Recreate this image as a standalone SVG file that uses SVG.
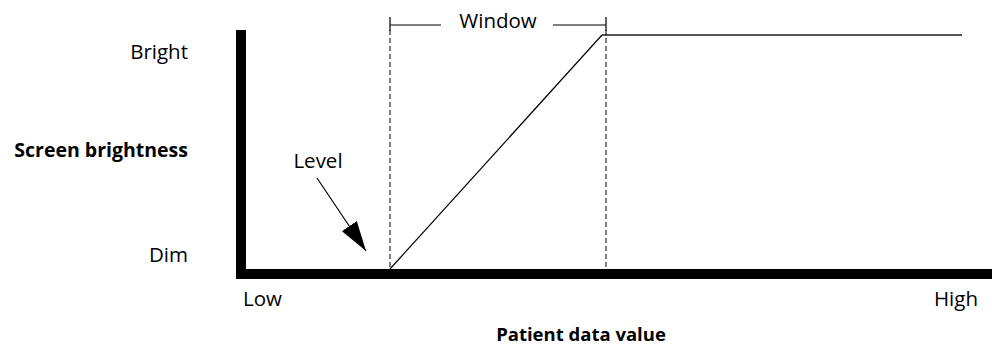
<svg xmlns="http://www.w3.org/2000/svg" width="992" height="347" viewBox="0 0 992 347">
<style>
text{font-family:"Open Sans","Noto Sans",sans-serif;font-size:20.5px;fill:#000}
.b{font-weight:bold;font-size:18.5px}
.dash{stroke:#000;stroke-width:1;stroke-dasharray:5 3;fill:none}
.thin{stroke:#000;stroke-width:1.2;fill:none}
</style>
<defs>
<marker id="ah" viewBox="0 0 30 18" refX="30" refY="9" markerWidth="30" markerHeight="18" markerUnits="userSpaceOnUse" orient="auto">
<path d="M0,0 L30,9 L0,18 z" fill="#000"/>
</marker>
</defs>
<g id="axes">
<rect x="236" y="30" width="10" height="249" fill="#000"/>
<rect x="236" y="269" width="756" height="10" fill="#000"/>
</g>
<g id="labels">
<text x="188" y="59" text-anchor="end">Bright</text>
<text x="188" y="157" text-anchor="end" class="b" style="font-size:19.5px">Screen brightness</text>
<text x="188" y="262" text-anchor="end">Dim</text>
<text x="243" y="306">Low</text>
<text x="978" y="306" text-anchor="end">High</text>
<text x="581" y="341" text-anchor="middle" class="b">Patient data value</text>
<text x="318" y="168" text-anchor="middle">Level</text>
<text x="498" y="28" text-anchor="middle">Window</text>
</g>
<g id="curve">
<polyline points="390,269 602,35" class="thin"/>
<line x1="602" y1="35" x2="962" y2="35" stroke="#555" stroke-width="2"/>
</g>
<g id="connectors">
<line x1="390" y1="30" x2="390" y2="269" class="dash"/>
<line x1="606" y1="30" x2="606" y2="276" class="dash"/>
<line x1="390" y1="25" x2="441" y2="25" class="thin"/>
<line x1="553" y1="25" x2="606" y2="25" class="thin"/>
<line x1="390" y1="17" x2="390" y2="31" class="thin"/>
<line x1="606" y1="17" x2="606" y2="31" class="thin"/>
<line x1="317" y1="178" x2="366" y2="251" class="thin" marker-end="url(#ah)"/>
</g>
</svg>
